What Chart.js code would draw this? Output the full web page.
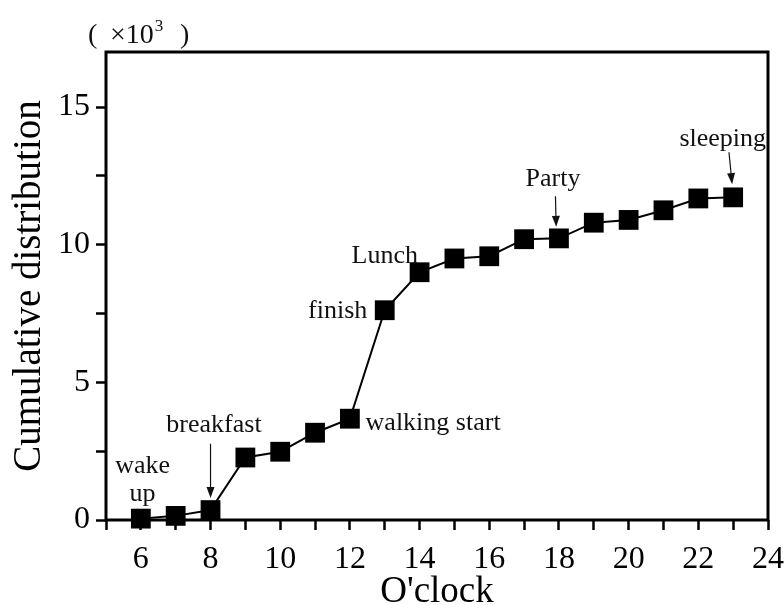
<!DOCTYPE html>
<html>
<head>
<meta charset="utf-8">
<script src="https://cdn.jsdelivr.net/npm/chart.js@4"></script>
<style>
  html, body { margin: 0; padding: 0; background: #fff; }
  #wrap { width: 784px; height: 605px; }
</style>
</head>
<body>
<div id="wrap"><canvas id="grafico"></canvas></div>
<script>
// valores (em milhares)
const horas = [6, 7, 8, 9, 10, 11, 12, 13, 14, 15, 16, 17, 18, 19, 20, 21, 22, 23];
const cumulativo = [0.05, 0.15, 0.36, 2.27, 2.48, 3.17, 3.68, 7.62, 9.0, 9.5, 9.58, 10.2, 10.23, 10.8, 10.9, 11.25, 11.68, 11.72];
const ticksX = [6, 8, 10, 12, 14, 16, 18, 20, 22, 24];
const ticksY = [0, 5, 10, 15];

// anotacoes: texto e posicao em coordenadas dos dados
const rotulos = [
  { texto: "wake", x: 6.05, y: 1.95, alinhar: "center" },
  { texto: "up", x: 6.05, y: 0.95, alinhar: "center" },
  { texto: "breakfast", x: 8.1, y: 3.45, alinhar: "center" },
  { texto: "walking start", x: 12.45, y: 3.53, alinhar: "left" },
  { texto: "finish", x: 12.5, y: 7.6, alinhar: "right" },
  { texto: "Lunch", x: 13.0, y: 9.57, alinhar: "center" },
  { texto: "Party", x: 17.83, y: 12.38, alinhar: "center" },
  { texto: "sleeping", x: 22.7, y: 13.85, alinhar: "center" }
];
const setas = [
  { x0: 8.0, de: 2.77, x1: 8.0, ate: 0.8 },
  { x0: 17.9, de: 11.76, x1: 17.92, ate: 10.65 },
  { x0: 22.88, de: 13.36, x1: 22.97, ate: 12.2 }
];

const fonte = "'Liberation Serif', 'DejaVu Serif', serif";

const anotacoes = {
  id: "anotacoes",
  beforeDatasetsDraw(chart) {
    const { ctx, chartArea } = chart;
    ctx.save();
    ctx.strokeStyle = "#000";
    ctx.lineWidth = 3;
    ctx.strokeRect(chartArea.left, chartArea.top, chartArea.right - chartArea.left, chartArea.bottom - chartArea.top);
    ctx.restore();
  },
  afterDatasetsDraw(chart) {
    const { ctx, chartArea, scales } = chart;
    ctx.save();
    ctx.fillStyle = "#111";
    ctx.font = "26px " + fonte;
    ctx.textBaseline = "middle";
    rotulos.forEach(r => {
      ctx.textAlign = r.alinhar;
      ctx.fillText(r.texto, scales.x.getPixelForValue(r.x), scales.y.getPixelForValue(r.y));
    });

    ctx.strokeStyle = "#111";
    ctx.lineWidth = 1.2;
    setas.forEach(s => {
      const xa = scales.x.getPixelForValue(s.x0);
      const xb = scales.x.getPixelForValue(s.x1);
      const y1 = scales.y.getPixelForValue(s.de);
      const y2 = scales.y.getPixelForValue(s.ate);
      const ang = Math.atan2(y2 - y1, xb - xa);
      const cx = xb - 9 * Math.cos(ang), cy = y2 - 9 * Math.sin(ang);
      ctx.beginPath();
      ctx.moveTo(xa, y1);
      ctx.lineTo(cx, cy);
      ctx.stroke();
      ctx.beginPath();
      ctx.moveTo(xb, y2);
      ctx.lineTo(xb - 11 * Math.cos(ang) + 4 * Math.sin(ang), y2 - 11 * Math.sin(ang) - 4 * Math.cos(ang));
      ctx.lineTo(xb - 11 * Math.cos(ang) - 4 * Math.sin(ang), y2 - 11 * Math.sin(ang) + 4 * Math.cos(ang));
      ctx.closePath();
      ctx.fill();
    });

    // unidade (x10^3)
    ctx.textAlign = "left";
    ctx.textBaseline = "alphabetic";
    ctx.font = "28px " + fonte;
    const bx = chartArea.left - 18;
    const by = chartArea.top - 9;
    ctx.fillText("(", bx, by);
    ctx.fillText("\u00d710", bx + 22, by);
    const w = ctx.measureText("\u00d710").width;
    ctx.font = "17px " + fonte;
    ctx.fillText("3", bx + 22 + w + 1, by - 12);
    ctx.font = "28px " + fonte;
    ctx.fillText(")", bx + 92, by);
    ctx.restore();
  }
};

new Chart(document.getElementById("grafico"), {
  type: "line",
  data: {
    datasets: [{
      data: horas.map((h, i) => ({ x: h, y: cumulativo[i] })),
      borderColor: "#000",
      borderWidth: 2,
      backgroundColor: "#000",
      pointStyle: "rect",
      pointRadius: 14,
      pointHoverRadius: 14,
      pointBorderWidth: 0,
      tension: 0,
      clip: false
    }]
  },
  options: {
    responsive: true,
    maintainAspectRatio: false,
    animation: false,
    layout: { padding: { top: 52, right: 0, left: 0, bottom: 0 } },
    plugins: {
      legend: { display: false },
      tooltip: { enabled: false }
    },
    scales: {
      x: {
        type: "linear",
        min: 5,
        max: 24,
        afterFit: s => { s.height = 85; s.paddingRight = 16; s.paddingLeft = 0; },
        ticks: {
          stepSize: 1,
          autoSkip: false,
          maxRotation: 0,
          padding: 10,
          color: "#000",
          font: { family: fonte, size: 32 },
          callback: v => ticksX.includes(v) ? v : ""
        },
        grid: { drawOnChartArea: false, drawTicks: true, tickLength: 10, tickWidth: 2.5, tickColor: "#000" },
        border: { display: false },
        title: {
          display: true,
          text: "O'clock",
          color: "#000",
          font: { family: fonte, size: 37, lineHeight: 1 },
          padding: { top: 0, bottom: -6 }
        }
      },
      y: {
        min: 0,
        max: 17,
        afterFit: s => { s.width = 106; },
        afterBuildTicks: s => { s.ticks = s.ticks.filter(t => Math.abs(t.value / 2.5 - Math.round(t.value / 2.5)) < 1e-6); },
        ticks: {
          stepSize: 2.5,
          autoSkip: false,
          padding: 6,
          color: "#000",
          font: { family: fonte, size: 32 },
          callback: v => ticksY.includes(v) ? v : ""
        },
        grid: { drawOnChartArea: false, drawTicks: true, tickLength: 10, tickWidth: 2.5, tickColor: "#000" },
        border: { display: false },
        title: {
          display: true,
          text: "Cumulative distribution",
          color: "#000",
          font: { family: fonte, size: 39 },
          padding: { top: 6, bottom: 0 }
        }
      }
    }
  },
  plugins: [anotacoes]
});
</script>
</body>
</html>
